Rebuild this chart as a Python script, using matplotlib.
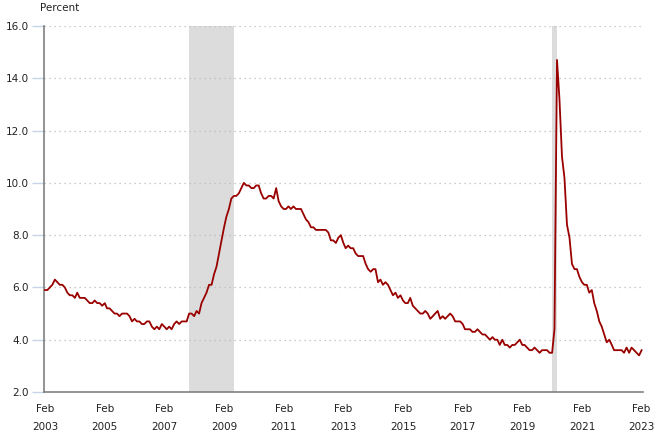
import numpy as np
import pandas as pd
import matplotlib
matplotlib.use("Agg")
import matplotlib.pyplot as plt
import matplotlib.dates as mdates

# unemployment rate, monthly, Feb 2003 - Feb 2023
rate_2003 = [5.9, 5.9, 6.0, 6.1, 6.3, 6.2, 6.1, 6.1, 6.0, 5.8, 5.7]  # Feb-Dec
rate_2004 = [5.7, 5.6, 5.8, 5.6, 5.6, 5.6, 5.5, 5.4, 5.4, 5.5, 5.4, 5.4]
rate_2005 = [5.3, 5.4, 5.2, 5.2, 5.1, 5.0, 5.0, 4.9, 5.0, 5.0, 5.0, 4.9]
rate_2006 = [4.7, 4.8, 4.7, 4.7, 4.6, 4.6, 4.7, 4.7, 4.5, 4.4, 4.5, 4.4]
rate_2007 = [4.6, 4.5, 4.4, 4.5, 4.4, 4.6, 4.7, 4.6, 4.7, 4.7, 4.7, 5.0]
rate_2008 = [5.0, 4.9, 5.1, 5.0, 5.4, 5.6, 5.8, 6.1, 6.1, 6.5, 6.8, 7.3]
rate_2009 = [7.8, 8.3, 8.7, 9.0, 9.4, 9.5, 9.5, 9.6, 9.8, 10.0, 9.9, 9.9]
rate_2010 = [9.8, 9.8, 9.9, 9.9, 9.6, 9.4, 9.4, 9.5, 9.5, 9.4, 9.8, 9.3]
rate_2011 = [9.1, 9.0, 9.0, 9.1, 9.0, 9.1, 9.0, 9.0, 9.0, 8.8, 8.6, 8.5]
rate_2012 = [8.3, 8.3, 8.2, 8.2, 8.2, 8.2, 8.2, 8.1, 7.8, 7.8, 7.7, 7.9]
rate_2013 = [8.0, 7.7, 7.5, 7.6, 7.5, 7.5, 7.3, 7.2, 7.2, 7.2, 6.9, 6.7]
rate_2014 = [6.6, 6.7, 6.7, 6.2, 6.3, 6.1, 6.2, 6.1, 5.9, 5.7, 5.8, 5.6]
rate_2015 = [5.7, 5.5, 5.4, 5.4, 5.6, 5.3, 5.2, 5.1, 5.0, 5.0, 5.1, 5.0]
rate_2016 = [4.8, 4.9, 5.0, 5.1, 4.8, 4.9, 4.8, 4.9, 5.0, 4.9, 4.7, 4.7]
rate_2017 = [4.7, 4.6, 4.4, 4.4, 4.4, 4.3, 4.3, 4.4, 4.3, 4.2, 4.2, 4.1]
rate_2018 = [4.0, 4.1, 4.0, 4.0, 3.8, 4.0, 3.8, 3.8, 3.7, 3.8, 3.8, 3.9]
rate_2019 = [4.0, 3.8, 3.8, 3.7, 3.6, 3.6, 3.7, 3.6, 3.5, 3.6, 3.6, 3.6]
rate_2020 = [3.5, 3.5, 4.4, 14.7, 13.2, 11.0, 10.2, 8.4, 7.9, 6.9, 6.7, 6.7]
rate_2021 = [6.4, 6.2, 6.1, 6.1, 5.8, 5.9, 5.4, 5.1, 4.7, 4.5, 4.2, 3.9]
rate_2022 = [4.0, 3.8, 3.6, 3.6, 3.6, 3.6, 3.5, 3.7, 3.5, 3.7, 3.6, 3.5]
rate_2023 = [3.4, 3.6]  # Jan-Feb

rates = (rate_2003 + rate_2004 + rate_2005 + rate_2006 + rate_2007 + rate_2008
         + rate_2009 + rate_2010 + rate_2011 + rate_2012 + rate_2013 + rate_2014
         + rate_2015 + rate_2016 + rate_2017 + rate_2018 + rate_2019 + rate_2020
         + rate_2021 + rate_2022 + rate_2023)
months = pd.date_range("2003-02-01", periods=len(rates), freq="MS")

# recession periods (shaded)
recessions = [("2007-12-01", "2009-06-01"), ("2020-02-01", "2020-04-01")]

tick_years = list(range(2003, 2024, 2))
y_ticks = [2.0, 4.0, 6.0, 8.0, 10.0, 12.0, 14.0, 16.0]

fig = plt.figure(figsize=(6.7, 4.41), dpi=100)
ax = fig.add_axes([44 / 670, 1 - 392 / 441, 599 / 670, 366 / 441])

for start, end in recessions:
    ax.axvspan(pd.Timestamp(start), pd.Timestamp(end), color="#dcdcdc", lw=0, zorder=1)

ax.plot(months, rates, color="#990000", lw=1.3, zorder=3)

ax.set_ylim(2, 16)
ax.set_xlim(pd.Timestamp("2003-01-19"), pd.Timestamp("2023-02-18"))

ax.set_yticks(y_ticks)
ax.set_yticklabels([f"{v:.1f}" for v in y_ticks])
for v in y_ticks[1:]:
    ax.axhline(v, color="#bbbbbb", lw=0.9, ls=(0, (1, 3)), zorder=2)

ax.set_xticks([pd.Timestamp(f"{y}-02-01") for y in tick_years])
ax.set_xticklabels([f"Feb\n{y}" for y in tick_years], linespacing=2.0)

ax.tick_params(axis="x", length=0, pad=9, labelsize=7.5, labelcolor="#222222")
ax.tick_params(axis="y", length=9, width=1, color="#c5d3e6", pad=2,
               labelsize=7.5, labelcolor="#222222")

for side in ["top", "right"]:
    ax.spines[side].set_visible(False)
ax.spines["left"].set_color("#808080")
ax.spines["bottom"].set_color("#808080")
ax.spines["left"].set_linewidth(1.2)
ax.spines["bottom"].set_linewidth(1.2)

fig.text(40 / 670, 1 - 8 / 441, "Percent", fontsize=7.5, color="#222222",
         ha="left", va="center")

fig.savefig("out.png", dpi=100)
